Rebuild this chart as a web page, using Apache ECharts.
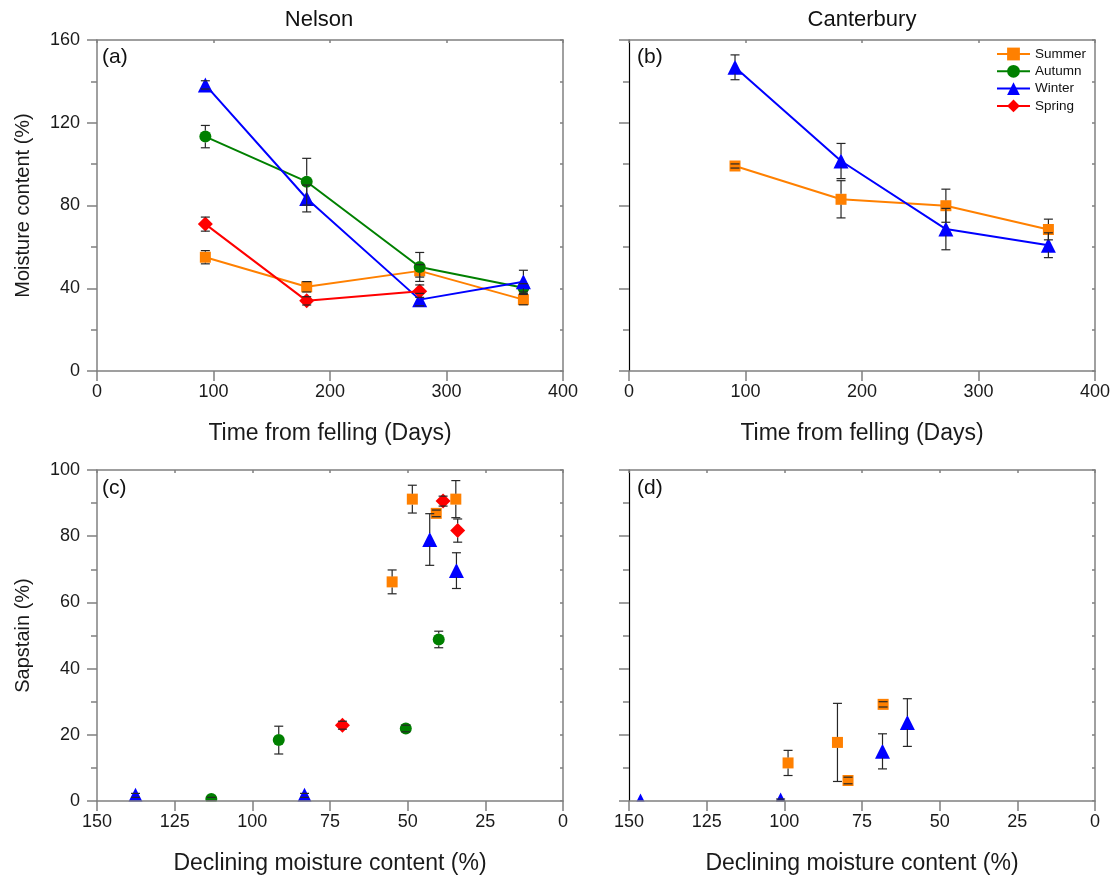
<!DOCTYPE html>
<html><head><meta charset="utf-8">
<script src="https://cdn.jsdelivr.net/npm/echarts@6/dist/echarts.min.js"></script>
<style>html,body{margin:0;padding:0;background:#fff}#c{width:1118px;height:876px}</style>
</head><body><div id="c"></div>
<script>
// ---------- data ----------
const seasons = ['Summer', 'Autumn', 'Winter', 'Spring'];

// tick labels
const timeTicks = [0, 100, 200, 300, 400];
const moistureTicks = [0, 40, 80, 120, 160];
const declineTicks = [150, 125, 100, 75, 50, 25, 0];
const sapstainTicks = [0, 20, 40, 60, 80, 100];

// (a) Nelson: moisture content vs days
const nelsonDays = [93, 180, 277, 366];
const nelsonSummer = [55.0, 40.7, 48.4, 34.5];
const nelsonSummerErr = [3.2, 2.5, 3.0, 2.5];
const nelsonAutumn = [113.3, 91.5, 50.3, 40.2];
const nelsonAutumnErr = [5.4, 11.3, 7.0, 2.0];
const nelsonWinter = [138.3, 83.4, 34.5, 43.1];
const nelsonWinterErr = [2.0, 6.5, 3.0, 5.6];
const nelsonSpringDays = [93, 180, 277];
const nelsonSpring = [71.0, 33.9, 38.6];
const nelsonSpringErr = [3.4, 2.0, 3.0];

// (b) Canterbury: moisture content vs days
const canterburyDays = [91, 182, 272, 360];
const canterburySummer = [99.1, 83.0, 79.9, 68.4];
const canterburySummerErr = [1.0, 9.0, 8.0, 5.0];
const canterburyWinter = [146.8, 101.5, 68.6, 60.8];
const canterburyWinterErr = [6.0, 8.5, 10.0, 6.0];

// (c) Nelson: sapstain vs declining moisture content
const sapNelsonSummerMC = [55.0, 40.8, 48.5, 34.5];
const sapNelsonSummer = [66.2, 86.9, 91.2, 91.2];
const sapNelsonSummerErr = [3.6, 1.0, 4.2, 5.6];
const sapNelsonAutumnMC = [113.2, 91.5, 50.6, 40.0];
const sapNelsonAutumn = [0.6, 18.4, 21.9, 48.8];
const sapNelsonAutumnErr = [0.5, 4.2, 1.0, 2.5];
const sapNelsonWinterMC = [137.6, 83.2, 34.3, 42.9];
const sapNelsonWinter = [1.7, 1.7, 69.6, 79.0];
const sapNelsonWinterErr = [0.6, 0.6, 5.4, 7.8];
const sapNelsonSpringMC = [71.0, 33.9, 38.6];
const sapNelsonSpring = [22.9, 81.7, 90.6];
const sapNelsonSpringErr = [1.2, 3.5, 1.5];

// (d) Canterbury: sapstain vs declining moisture content
const sapCantSummerMC = [98.8, 82.9, 79.5, 68.2];
const sapCantSummer = [11.5, 17.7, 6.2, 29.2];
const sapCantSummerErr = [3.8, 11.8, 1.0, 0.8];
const sapCantWinterMC = [146.3, 101.2, 68.4, 60.4];
const sapCantWinter = [0.0, 0.3, 15.0, 23.7];
const sapCantWinterErr = [0.0, 0.3, 5.3, 7.2];

// ---------- styling ----------
const FONT = '"Liberation Sans", Arial, Helvetica, sans-serif';
const colors = { Summer: '#FF8000', Autumn: '#008000', Winter: '#0000FF', Spring: '#FF0000' };
const symbols = { Summer: 'rect', Autumn: 'circle', Winter: 'triangle', Spring: 'diamond' };
const sizes = { Summer: 11, Autumn: 12, Winter: 15, Spring: 15 };
const halfs = { Summer: 5.5, Autumn: 6, Winter: 6.5, Spring: 7 };
const AX = '#808080';

const grids = [
  { left: 97, top: 40, width: 466, height: 331 },
  { left: 629, top: 40, width: 466, height: 331 },
  { left: 97, top: 470, width: 466, height: 331 },
  { left: 629, top: 470, width: 466, height: 331 }
];

function pairs(xs, ys) { return xs.map((x, i) => [x, ys[i]]); }
function triples(xs, ys, es) { return xs.map((x, i) => [x, ys[i], es[i]]); }

function lineSeries(name, g, xs, ys) {
  return {
    type: 'line', name, xAxisIndex: g * 2, yAxisIndex: g * 2,
    data: pairs(xs, ys), symbol: symbols[name], symbolSize: sizes[name],
    lineStyle: { color: colors[name], width: 2 }, itemStyle: { color: colors[name] },
    z: 2, animation: false, clip: false
  };
}
function scatterSeries(name, g, xs, ys) {
  return {
    type: 'scatter', name, xAxisIndex: g * 2, yAxisIndex: g * 2,
    data: pairs(xs, ys), symbol: symbols[name], symbolSize: sizes[name],
    itemStyle: { color: colors[name], opacity: 1 }, z: 2, animation: false
  };
}
function errSeries(name, g, xs, ys, es) {
  const half = halfs[name];
  return {
    type: 'custom', name: name + ' err', xAxisIndex: g * 2, yAxisIndex: g * 2,
    data: triples(xs, ys, es), encode: { x: 0, y: 1 }, z: 3, animation: false,
    silent: true,
    renderItem: function (params, api) {
      const x = api.value(0), y = api.value(1), e = api.value(2);
      if (!(e > 0)) return;
      const c = api.coord([x, y]), t = api.coord([x, y + e]), b = api.coord([x, y - e]);
      const cap = 4.5;
      const st = { stroke: '#262626', lineWidth: 1.2 };
      const ch = [
        { type: 'line', shape: { x1: c[0] - cap, y1: t[1], x2: c[0] + cap, y2: t[1] }, style: st },
        { type: 'line', shape: { x1: c[0] - cap, y1: b[1], x2: c[0] + cap, y2: b[1] }, style: st }
      ];
      if (t[1] < c[1] - half) ch.push({ type: 'line', shape: { x1: c[0], y1: t[1], x2: c[0], y2: c[1] - half }, style: st });
      if (b[1] > c[1] + half) ch.push({ type: 'line', shape: { x1: c[0], y1: c[1] + half, x2: c[0], y2: b[1] }, style: st });
      return { type: 'group', children: ch };
    }
  };
}

function ticksToRange(t) {
  const lo = Math.min(...t), hi = Math.max(...t);
  return { min: lo, max: hi, interval: (hi - lo) / (t.length - 1) };
}
const tR = ticksToRange(timeTicks), mR = ticksToRange(moistureTicks);
const dR = ticksToRange(declineTicks), sR = ticksToRange(sapstainTicks);

const labelStyle = { color: '#1a1a1a', fontSize: 18, fontFamily: FONT };
const xNameStyle = { color: '#1a1a1a', fontSize: 23, fontFamily: FONT };
const yNameStyle = { color: '#1a1a1a', fontSize: 20, fontFamily: FONT };

function bottomX(g, r, inverse, name, z) {
  return {
    type: 'value', gridIndex: g, position: 'bottom', min: r.min, max: r.max, interval: r.interval,
    inverse: !!inverse, z: z || 0,
    axisLine: { show: true, onZero: false, lineStyle: { color: AX, width: 1.5 } },
    axisTick: { show: true, inside: false, length: 10, lineStyle: { color: AX, width: 1.5 } },
    axisLabel: Object.assign({ margin: 12 }, labelStyle),
    splitLine: { show: false },
    name: name, nameLocation: 'middle', nameGap: 51, nameTextStyle: xNameStyle
  };
}
function topX(g, r, inverse) {
  return {
    type: 'value', gridIndex: g, position: 'top', min: r.min, max: r.max, interval: r.interval,
    inverse: !!inverse,
    axisLine: { show: true, onZero: false, lineStyle: { color: AX, width: 1.5 } },
    axisTick: { show: true, inside: true, length: 3, lineStyle: { color: AX, width: 1.5 } },
    axisLabel: { show: false }, splitLine: { show: false }
  };
}
function leftY(g, r, showLabels, name, dark) {
  const col = dark ? '#000' : AX;
  return {
    type: 'value', gridIndex: g, position: 'left', min: r.min, max: r.max, interval: r.interval,
    axisLine: { show: true, onZero: false, lineStyle: { color: col, width: dark ? 1.2 : 1.5 } },
    axisTick: { show: true, inside: false, length: 10, lineStyle: { color: AX, width: 1.5 } },
    minorTick: { show: true, splitNumber: 2, length: 6, lineStyle: { color: AX, width: 1.5 } },
    axisLabel: Object.assign({ show: showLabels, margin: 17 }, labelStyle),
    splitLine: { show: false }, minorSplitLine: { show: false },
    name: name || '', nameLocation: 'middle', nameGap: 64, nameTextStyle: yNameStyle
  };
}
function rightY(g, r) {
  return {
    type: 'value', gridIndex: g, position: 'right', min: r.min, max: r.max, interval: r.interval / 2,
    axisLine: { show: true, onZero: false, lineStyle: { color: AX, width: 1.5 } },
    axisTick: { show: true, inside: true, length: 3, lineStyle: { color: AX, width: 1.5 } },
    axisLabel: { show: false }, splitLine: { show: false }
  };
}

const xAxes = [
  bottomX(0, tR, false, 'Time from felling (Days)'), topX(0, tR, false),
  bottomX(1, tR, false, 'Time from felling (Days)'), topX(1, tR, false),
  bottomX(2, dR, true, 'Declining moisture content (%)', 20), topX(2, dR, true),
  bottomX(3, dR, true, 'Declining moisture content (%)', 20), topX(3, dR, true)
];
const yAxes = [
  leftY(0, mR, true, 'Moisture content (%)'), rightY(0, mR),
  leftY(1, mR, false, '', true), rightY(1, mR),
  leftY(2, sR, true, 'Sapstain (%)'), rightY(2, sR),
  leftY(3, sR, false, '', true), rightY(3, sR)
];

const series = [
  lineSeries('Summer', 0, nelsonDays, nelsonSummer),
  lineSeries('Autumn', 0, nelsonDays, nelsonAutumn),
  lineSeries('Winter', 0, nelsonDays, nelsonWinter),
  lineSeries('Spring', 0, nelsonSpringDays, nelsonSpring),
  lineSeries('Summer', 1, canterburyDays, canterburySummer),
  lineSeries('Winter', 1, canterburyDays, canterburyWinter),
  scatterSeries('Summer', 2, sapNelsonSummerMC, sapNelsonSummer),
  scatterSeries('Autumn', 2, sapNelsonAutumnMC, sapNelsonAutumn),
  scatterSeries('Winter', 2, sapNelsonWinterMC, sapNelsonWinter),
  scatterSeries('Spring', 2, sapNelsonSpringMC, sapNelsonSpring),
  scatterSeries('Summer', 3, sapCantSummerMC, sapCantSummer),
  scatterSeries('Winter', 3, sapCantWinterMC, sapCantWinter),
  errSeries('Summer', 0, nelsonDays, nelsonSummer, nelsonSummerErr),
  errSeries('Autumn', 0, nelsonDays, nelsonAutumn, nelsonAutumnErr),
  errSeries('Winter', 0, nelsonDays, nelsonWinter, nelsonWinterErr),
  errSeries('Spring', 0, nelsonSpringDays, nelsonSpring, nelsonSpringErr),
  errSeries('Summer', 1, canterburyDays, canterburySummer, canterburySummerErr),
  errSeries('Winter', 1, canterburyDays, canterburyWinter, canterburyWinterErr),
  errSeries('Summer', 2, sapNelsonSummerMC, sapNelsonSummer, sapNelsonSummerErr),
  errSeries('Autumn', 2, sapNelsonAutumnMC, sapNelsonAutumn, sapNelsonAutumnErr),
  errSeries('Winter', 2, sapNelsonWinterMC, sapNelsonWinter, sapNelsonWinterErr),
  errSeries('Spring', 2, sapNelsonSpringMC, sapNelsonSpring, sapNelsonSpringErr),
  errSeries('Summer', 3, sapCantSummerMC, sapCantSummer, sapCantSummerErr),
  errSeries('Winter', 3, sapCantWinterMC, sapCantWinter, sapCantWinterErr)
];

function txt(x, y, text, size, align, vAlign) {
  return {
    type: 'text', x: x, y: y, z: 50,
    style: { text: text, fill: '#111', fontSize: size, fontFamily: FONT,
      align: align, verticalAlign: vAlign, textAlign: align, textVerticalAlign: vAlign }
  };
}

const graphics = [
  txt(319, 20, 'Nelson', 22, 'center', 'middle'),
  txt(862, 20, 'Canterbury', 22, 'center', 'middle'),
  txt(102, 47, '(a)', 21, 'left', 'top'),
  txt(637, 47, '(b)', 21, 'left', 'top'),
  txt(102, 478, '(c)', 21, 'left', 'top'),
  txt(637, 478, '(d)', 21, 'left', 'top'),
  { type: 'rect', z: 10, shape: { x: 98, y: 801.6, width: 466, height: 9 }, style: { fill: '#fff' } },
  { type: 'rect', z: 10, shape: { x: 630, y: 801.6, width: 466, height: 9 }, style: { fill: '#fff' } }
];

const chart = echarts.init(document.getElementById('c'), null, { renderer: 'canvas' });
chart.setOption({
  animation: false,
  backgroundColor: '#fff',
  textStyle: { fontFamily: FONT },
  grid: grids,
  xAxis: xAxes,
  yAxis: yAxes,
  legend: {
    data: seasons, orient: 'vertical', left: 996, top: 47, padding: 0,
    itemWidth: 33, itemHeight: 16, itemGap: 3.3,
    textStyle: { fontSize: 13.5, color: '#111', fontFamily: FONT },
    selectedMode: false
  },
  graphic: graphics,
  series: series
});
</script>
</body></html>
